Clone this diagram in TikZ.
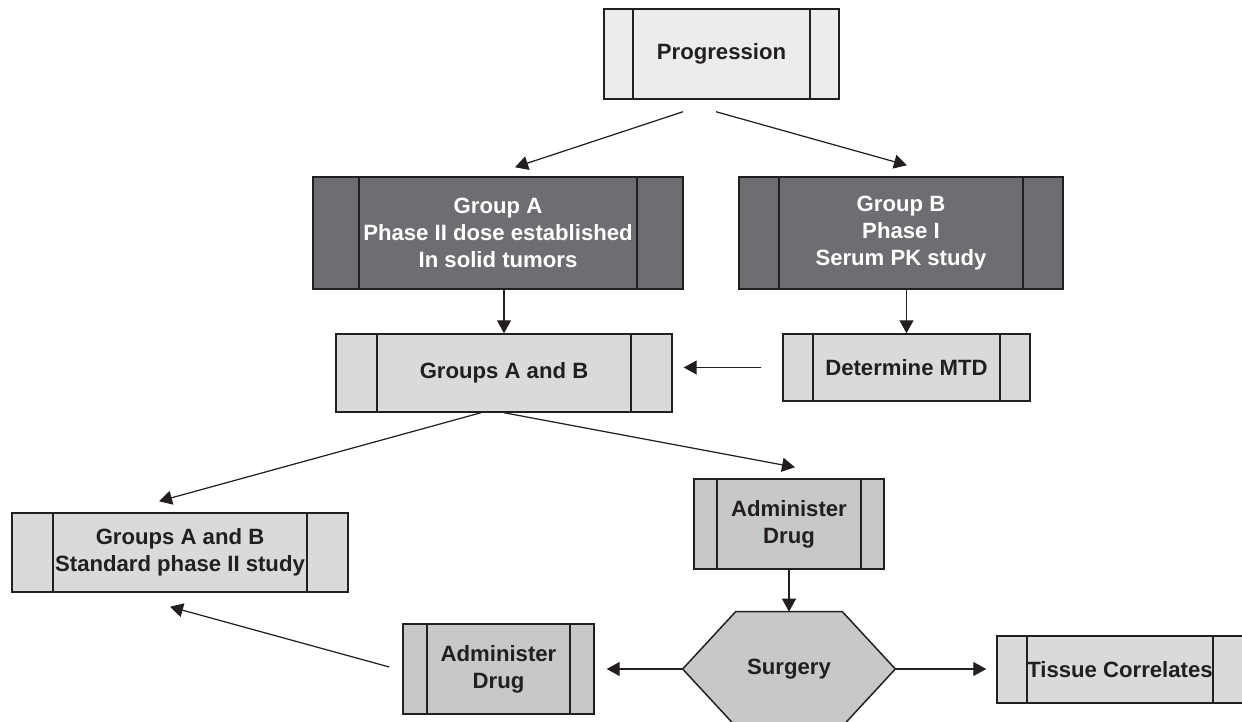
\documentclass[tikz,border=0pt]{standalone}
\usepackage{fontspec}
\setmainfont{Liberation Sans}
\usetikzlibrary{arrows.meta,backgrounds}

\definecolor{lightfill}{HTML}{ECECEC}
\definecolor{midfill}{HTML}{D9DADC}
\definecolor{darkfill}{HTML}{6D6E71}
\definecolor{greyfill}{HTML}{C7C8CA}
\definecolor{inkgray}{HTML}{231F20}

\begin{document}
\begin{tikzpicture}[
			x=0.02cm, y=-0.02cm,
			>={Triangle[length=0.26cm,width=0.28cm]},
			arr/.style={->, draw=inkgray, line width=0.7pt},
			procbox/.style={
					rectangle,
					draw=inkgray,
					line width=0.85pt,
					inner sep=0pt,
					align=center,
					text=inkgray,
					font={\fontsize{12.6}{15.4}\selectfont\bfseries},
					path picture={
							\draw[inkgray, line width=0.85pt]
								([xshift=#1]path picture bounding box.north west) -- ([xshift=#1]path picture bounding box.south west)
								([xshift=-#1]path picture bounding box.north east) -- ([xshift=-#1]path picture bounding box.south east);
						}
				},
			startbox/.style={procbox=#1, fill=lightfill},
			groupbox/.style={procbox=#1, fill=darkfill, text=white},
			stepbox/.style={procbox=#1, fill=midfill},
			drugbox/.style={procbox=#1, fill=greyfill},
			hexbox/.style={
					rectangle,
					inner sep=0pt,
					minimum width=4.24cm,
					minimum height=2.28cm,
					text=inkgray,
					font={\fontsize{12.6}{15.4}\selectfont\bfseries}
				}
		]
		\useasboundingbox (0,0) rectangle (1242,722);

		% Nodes
		\node[startbox=0.58cm, minimum width=4.70cm, minimum height=1.80cm] (prog) at (721.5,54) {Progression};
		\node[groupbox=0.92cm, minimum width=7.40cm, minimum height=2.24cm] (grpA) at (498,233) {Group A \\ Phase II dose established \\ In solid tumors};
		\node[groupbox=0.80cm, minimum width=6.48cm, minimum height=2.24cm] (grpB) at (901,233) {Group B \\ Phase I \\ Serum PK study};
		\node[stepbox=0.82cm, minimum width=6.72cm, minimum height=1.56cm] (grpAB) at (504,373) {Groups A and B};
		\node[stepbox=0.60cm, minimum width=4.94cm, minimum height=1.34cm] (mtd) at (906.5,367.5) {Determine MTD};
		\node[stepbox=0.82cm, minimum width=6.72cm, minimum height=1.58cm] (std) at (180,552.5) {Groups A and B \\ Standard phase II study};
		\node[drugbox=0.46cm, minimum width=3.80cm, minimum height=1.80cm] (admA) at (789,524) {Administer \\ Drug};
		\node[hexbox] (surg) at (789,669) {Surgery};
		\node[drugbox=0.48cm, minimum width=3.82cm, minimum height=1.80cm] (admB) at (498.5,669) {Administer \\ Drug};
		\node[stepbox=0.60cm, minimum width=4.92cm, minimum height=1.34cm] (tissue) at (1120,669.5) {Tissue Correlates};

		% Hexagon outline for surgery
		\begin{scope}[on background layer]
			\draw[fill=greyfill, draw=inkgray, line width=0.85pt] (surg.west) -- ([xshift=1.06cm]surg.north west) -- ([xshift=-1.06cm]surg.north east) -- (surg.east) -- ([xshift=-1.06cm]surg.south east) -- ([xshift=1.06cm]surg.south west) -- cycle;
		\end{scope}

		% Arrows
		\draw[arr] ([shift={(-38.5,12)}]prog.south) -- ([shift={(17,-9)}]grpA.north);
		\draw[arr] ([shift={(-5.5,12)}]prog.south) -- ([shift={(6,-11)}]grpB.north);
		\draw[arr] (grpA.south -| grpAB.north) -- (grpAB.north);
		\draw[arr] (grpB.south -| mtd.north) -- (mtd.north);
		\draw[arr, shorten <=0.42cm, shorten >=0.22cm] (mtd.west) -- (mtd.west -| grpAB.east);
		\draw[arr] ([xshift=-0.46cm]grpAB.south) -- ([shift={(-21,-11)}]std.north);
		\draw[arr] (grpAB.south) -- ([shift={(6,-11)}]admA.north);
		\draw[arr] (admA.south -| surg.north) -- (surg.north);
		\draw[arr, shorten >=0.24cm] (surg.west) -- (surg.west -| admB.east);
		\draw[arr, shorten >=0.20cm] (surg.east) -- (surg.east -| tissue.west);
		\draw[arr] ([shift={(-13,-2)}]admB.west) -- ([shift={(-10,14)}]std.south);

	\end{tikzpicture}
\end{document}
